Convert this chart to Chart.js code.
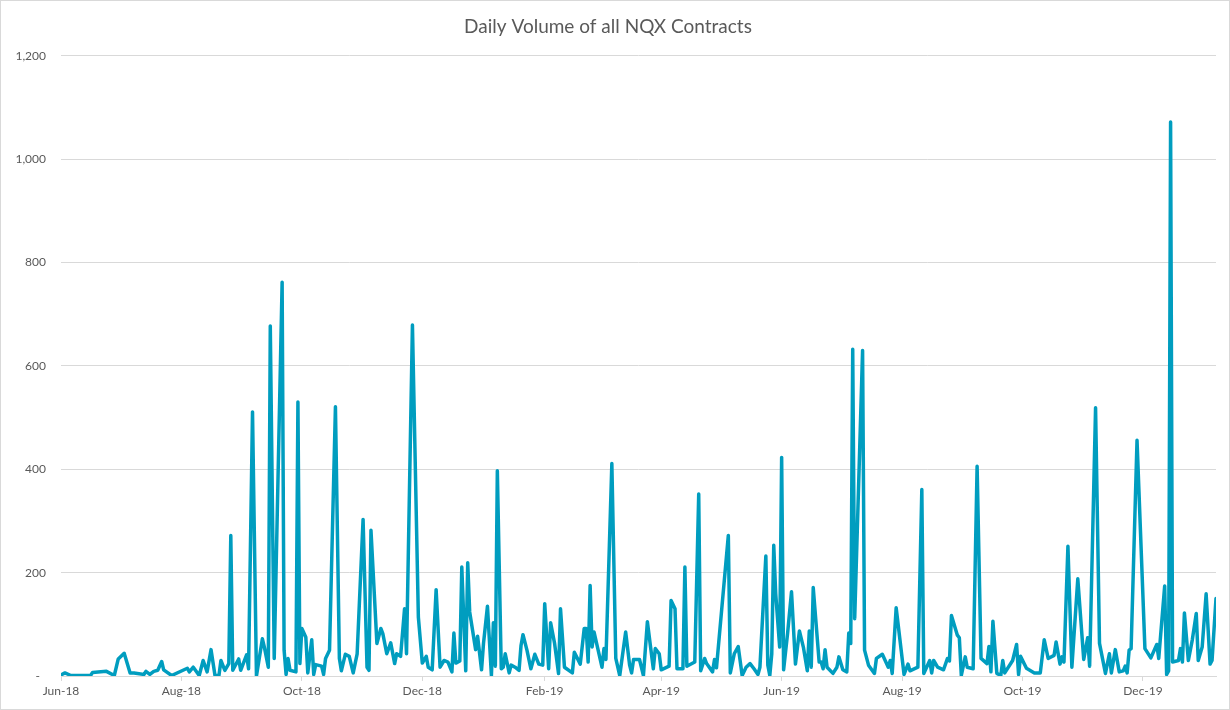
<!DOCTYPE html>
<html>
<head>
<meta charset="utf-8">
<title>Daily Volume of all NQX Contracts</title>
<script src="https://cdn.jsdelivr.net/npm/chart.js@4.4.1/dist/chart.umd.min.js"></script>
<style>
    html, body { margin: 0; padding: 0; background: #fff; }
    .chart-box { width: 1230px; height: 710px; }
</style>
</head>
<body>
<div class="chart-box"><canvas id="volumeChart"></canvas></div>
<script>
// trading days, counted as days since 1 Jun 2018
const days = [
    0, 2, 5, 15, 16, 23, 27, 29, 32, 35,
    37, 42, 43, 45, 47, 49, 51, 52, 56, 64,
    65, 67, 70, 72, 74, 76, 78, 80, 81, 83,
    85, 86, 87, 90, 91, 94, 95, 97, 99, 102,
    103, 105, 106, 108, 112, 113, 114, 115, 116, 119,
    120, 121, 122, 124, 125, 127, 128, 129, 132, 133,
    134, 136, 139, 141, 142, 144, 146, 148, 150, 153,
    155, 156, 157, 160, 162, 163, 165, 167, 169, 170,
    172, 174, 175, 178, 181, 183, 185, 186, 188, 190,
    192, 194, 196, 198, 199, 200, 202, 203, 205, 206,
    207, 210, 211, 213, 214, 216, 218, 219, 220, 221,
    223, 224, 225, 227, 228, 230, 232, 233, 234, 236,
    238, 240, 242, 244, 245, 247, 248, 250, 252, 253,
    255, 259, 260, 263, 265, 266, 267, 268, 269, 270,
    274, 275, 276, 279, 281, 283, 286, 288, 289, 290,
    293, 295, 297, 300, 301, 303, 304, 308, 309, 311,
    312, 315, 316, 317, 321, 323, 324, 326, 327, 330,
    331, 332, 338, 339, 341, 343, 345, 347, 349, 351,
    353, 354, 357, 358, 359, 360, 361, 362, 364, 365,
    366, 368, 370, 372, 374, 376, 378, 379, 380, 381,
    384, 385, 386, 387, 388, 391, 393, 394, 396, 398,
    399, 400, 401, 402, 406, 407, 409, 412, 413, 416,
    419, 420, 421, 423, 427, 429, 430, 434, 436, 437,
    440, 441, 442, 444, 447, 449, 450, 451, 454, 455,
    456, 458, 459, 462, 464, 466, 469, 470, 471, 472,
    474, 476, 477, 478, 482, 484, 485, 486, 489, 493,
    496, 498, 500, 503, 504, 506, 507, 508, 510, 512,
    515, 518, 520, 521, 524, 526, 529, 531, 532, 534,
    536, 538, 539, 540, 541, 542, 545, 549, 552, 555,
    556, 559, 560, 561, 562, 563, 566, 567, 568, 569,
    571, 573, 575, 576, 578, 580, 582, 583, 585
];

const volumes = [
    2, 6, 1, 1, 7, 9, 1, 33, 44, 6,
    6, 3, 9, 3, 9, 11, 28, 12, 1, 15,
    8, 17, 1, 30, 8, 51, 1, 1, 30, 11,
    24, 272, 11, 33, 11, 41, 14, 511, 0, 72,
    56, 17, 677, 34, 762, 50, 3, 34, 11, 8,
    530, 24, 92, 75, 6, 70, 3, 22, 19, 3,
    34, 50, 521, 34, 10, 42, 38, 6, 43, 303,
    17, 11, 282, 63, 92, 82, 43, 64, 24, 43,
    38, 130, 43, 679, 114, 25, 38, 17, 12, 167,
    17, 30, 27, 8, 83, 25, 29, 211, 10, 219,
    124, 51, 77, 12, 63, 135, 1, 103, 19, 397,
    14, 17, 43, 6, 21, 17, 11, 59, 80, 50,
    14, 42, 23, 21, 140, 14, 103, 63, 5, 130,
    17, 6, 46, 23, 92, 92, 27, 175, 56, 85,
    17, 53, 32, 411, 34, 1, 85, 21, 6, 32,
    32, 1, 105, 14, 53, 43, 12, 19, 146, 130,
    14, 14, 211, 19, 27, 352, 10, 34, 24, 8,
    32, 16, 272, 6, 43, 57, 1, 17, 24, 14,
    3, 17, 232, 21, 1, 43, 253, 159, 56, 423,
    12, 82, 163, 23, 87, 56, 10, 87, 17, 171,
    27, 27, 14, 51, 17, 5, 17, 37, 12, 8,
    83, 63, 632, 111, 630, 50, 21, 5, 34, 42,
    17, 30, 5, 132, 3, 23, 10, 17, 361, 5,
    30, 6, 30, 17, 12, 34, 29, 117, 79, 74,
    1, 37, 17, 14, 406, 34, 24, 57, 8, 106,
    5, 1, 30, 6, 30, 61, 3, 38, 15, 6,
    6, 70, 34, 40, 66, 23, 37, 27, 251, 17,
    188, 32, 74, 19, 519, 63, 5, 43, 6, 51,
    8, 10, 19, 6, 50, 53, 456, 53, 35, 61,
    34, 174, 3, 10, 1072, 27, 30, 53, 27, 122,
    30, 70, 121, 30, 56, 159, 23, 30, 150
];

// first day of every second month, same day count as above
const tickDays = [0, 61, 122, 183, 245, 304, 365, 426, 487, 548];
const tickLabels = ['Jun-18', 'Aug-18', 'Oct-18', 'Dec-18', 'Feb-19', 'Apr-19', 'Jun-19', 'Aug-19', 'Oct-19', 'Dec-19'];

const textGray = '#595959';
const gridGray = '#d9d9d9';
const fontName = 'Lato';

// white background plus the thin outer frame
const chartFrame = {
    id: 'chartFrame',
    beforeDraw(chart) {
        const c = chart.ctx;
        c.save();
        c.fillStyle = '#ffffff';
        c.fillRect(0, 0, chart.width, chart.height);
        c.restore();
    },
    afterDraw(chart) {
        const c = chart.ctx;
        c.save();
        c.strokeStyle = gridGray;
        c.lineWidth = 1;
        c.strokeRect(0.5, 0.5, chart.width - 1, chart.height - 1);
        c.restore();
    }
};

const points = days.map((d, i) => ({ x: d, y: volumes[i] }));

new Chart(document.getElementById('volumeChart'), {
    type: 'line',
    data: {
        datasets: [{
            data: points,
            borderColor: '#009dbf',
            borderWidth: 3.5,
            borderJoinStyle: 'round',
            borderCapStyle: 'round',
            pointRadius: 0,
            tension: 0,
            fill: false
        }]
    },
    options: {
        responsive: true,
        maintainAspectRatio: false,
        animation: false,
        layout: {
            padding: { left: 0, right: 14, top: 0, bottom: 0 }
        },
        plugins: {
            legend: { display: false },
            tooltip: { enabled: false },
            title: {
                display: true,
                text: 'Daily Volume of all NQX Contracts',
                color: textGray,
                font: { family: fontName, size: 19, weight: 'normal' },
                padding: { top: 15, bottom: 18 }
            }
        },
        scales: {
            x: {
                type: 'linear',
                min: 0,
                max: 585,
                afterBuildTicks: (scale) => {
                    scale.ticks = tickDays.map(v => ({ value: v }));
                },
                afterFit: (scale) => {
                    scale.height = 34;
                },
                ticks: {
                    autoSkip: false,
                    maxRotation: 0,
                    padding: 3,
                    color: textGray,
                    font: { family: fontName, size: 12 },
                    callback: (value, index) => tickLabels[index]
                },
                grid: {
                    drawOnChartArea: false,
                    tickLength: 5,
                    color: gridGray
                },
                border: { color: gridGray, width: 1 }
            },
            y: {
                min: 0,
                max: 1200,
                afterFit: (scale) => {
                    scale.width = 61;
                },
                ticks: {
                    stepSize: 200,
                    padding: 15,
                    color: textGray,
                    font: { family: fontName, size: 12 },
                    callback: (value) => value === 0 ? '-  ' : value.toLocaleString('en-US')
                },
                grid: {
                    color: gridGray,
                    drawTicks: false
                },
                border: { display: false }
            }
        }
    },
    plugins: [chartFrame]
});
</script>
</body>
</html>
